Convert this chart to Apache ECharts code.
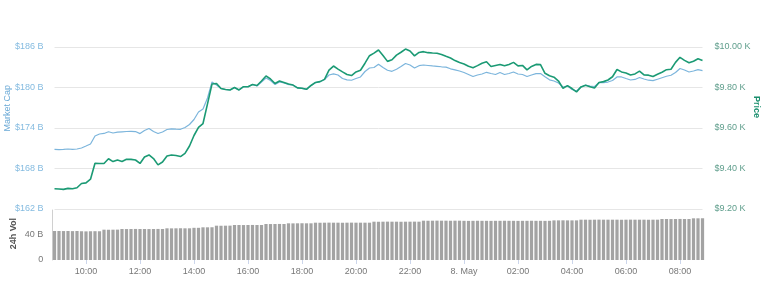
<!DOCTYPE html>
<html>
<head>
<meta charset="utf-8">
<script src="https://cdn.jsdelivr.net/npm/echarts@6/dist/echarts.min.js"></script>
<style>
html,body{margin:0;padding:0;background:#fff;}
#c{width:768px;height:292px;}
</style>
</head>
<body>
<div id="c"></div>
<script>
// Sampling grid: 10-minute steps from 08:50 (7 May) to 08:50 (8 May)
var startMinutes = 8 * 60 + 50;
var stepMinutes = 10;
var pointCount = 145;
var times = [];
for (var k = 0; k < pointCount; k++) {
  var m = (startMinutes + k * stepMinutes) % (24 * 60);
  var hh = Math.floor(m / 60), mm = m % 60;
  times.push((hh < 10 ? '0' : '') + hh + ':' + (mm < 10 ? '0' : '') + mm);
}

// Market cap, billions USD
var marketCap = [
170.84,170.81,170.84,170.89,170.84,170.89,171.04,171.33,171.63,172.81,
173.11,173.19,173.45,173.26,173.38,173.44,173.48,173.51,173.47,173.17,
173.63,173.93,173.48,173.19,173.41,173.78,173.88,173.82,173.81,174.07,
174.52,175.26,176.37,176.81,178.44,180.81,180.37,179.85,179.70,179.63,
180.00,179.63,180.12,180.12,180.44,180.22,180.81,181.41,181.04,180.44,
180.81,180.67,180.44,180.37,179.93,179.88,179.73,180.30,180.71,180.86,
181.19,181.85,182.03,181.85,181.33,181.14,181.07,181.33,181.56,182.37,
182.89,182.96,183.45,182.96,182.56,182.40,182.70,183.11,183.56,183.33,
182.89,183.23,183.33,183.26,183.19,183.14,183.07,183.01,182.77,182.62,
182.44,182.22,181.93,181.63,181.85,182.00,182.25,182.07,181.93,182.22,
181.93,182.07,182.30,182.00,181.93,181.63,181.85,182.06,182.07,181.60,
181.14,180.96,180.67,180.07,180.22,179.70,179.48,180.07,180.34,180.22,
180.15,180.71,180.71,180.81,181.04,181.56,181.56,181.33,181.11,181.19,
181.48,181.26,181.08,181.01,181.23,181.45,181.67,181.81,182.22,182.81,
182.59,182.30,182.44,182.64,182.49
];

// Price, USD
var price = [
9300,9299,9297,9302,9300,9305,9326,9329,9347,9426,
9425,9425,9448,9434,9442,9435,9446,9445,9442,9425,
9457,9467,9449,9418,9432,9462,9467,9464,9459,9475,
9511,9563,9603,9622,9719,9817,9820,9795,9790,9788,
9800,9788,9804,9804,9815,9810,9832,9857,9842,9820,
9832,9825,9817,9812,9798,9796,9791,9810,9825,9829,
9840,9886,9906,9891,9877,9864,9859,9877,9885,9920,
9957,9970,9985,9958,9929,9937,9960,9974,9990,9980,
9956,9973,9977,9972,9970,9969,9963,9954,9946,9933,
9923,9916,9905,9898,9908,9920,9927,9904,9909,9914,
9907,9914,9924,9907,9909,9887,9904,9914,9913,9870,
9858,9851,9832,9796,9809,9795,9778,9803,9811,9804,
9797,9825,9829,9837,9853,9889,9877,9872,9862,9867,
9881,9862,9861,9854,9865,9875,9888,9890,9924,9949,
9934,9922,9930,9942,9933
];

// 24h volume, billions USD
var volume = [
46.4,46.4,46.3,46.4,46.2,46.4,46.0,45.8,46.0,46.1,
46.0,48.5,48.4,48.5,48.6,49.6,49.5,49.6,49.7,49.6,
49.6,49.5,49.6,49.7,49.6,50.7,50.6,50.7,50.8,50.7,
50.7,51.5,51.5,52.3,52.3,52.4,54.9,54.8,54.9,55.0,
56.0,56.0,55.9,56.0,56.1,56.0,56.0,57.6,57.5,57.6,
57.7,57.6,58.7,58.6,58.7,58.8,58.7,58.7,59.7,59.6,
59.7,59.8,59.7,59.7,59.6,59.7,59.8,59.7,59.7,59.7,
59.7,61.3,61.2,61.3,61.4,61.3,61.3,61.2,61.3,61.3,
61.4,61.3,62.9,62.8,62.9,63.0,62.9,62.9,62.8,62.9,
62.9,62.7,62.6,62.7,62.8,62.7,62.7,62.6,62.7,62.7,
62.8,62.7,62.7,62.6,62.7,62.7,62.8,62.7,62.7,62.6,
62.7,63.4,63.4,63.5,63.4,63.4,63.4,64.5,64.5,64.4,
64.5,64.6,64.5,64.5,64.5,64.5,64.4,64.5,64.6,64.5,
64.5,64.5,64.4,64.5,64.5,65.6,65.6,65.5,65.6,65.7,
65.6,65.6,66.7,66.7,66.8
];

// Axis tick settings
var capTicks = {min: 162, max: 186, step: 6};
var priceTicks = {min: 9200, max: 10000, step: 200};
var volTicks = {min: 0, max: 80, step: 40};
var dayLabel = '8. May';

var chart = echarts.init(document.getElementById('c'), null, {renderer: 'canvas'});
var font = 'Liberation Sans';
var evenHour = function (i, v) { return /:00$/.test(v) && parseInt(v, 10) % 2 === 0; };
var option = {
  animation: false,
  backgroundColor: '#ffffff',
  grid: [
    {left: 54.5, width: 648, top: 47, height: 162},
    {left: 52.25, width: 652.5, top: 210, height: 50}
  ],
  xAxis: [
    {type: 'category', gridIndex: 0, data: times, boundaryGap: false,
     axisLine: {show: false}, axisTick: {show: false}, axisLabel: {show: false}, splitLine: {show: false}},
    {type: 'category', gridIndex: 1, data: times, boundaryGap: true,
     axisLine: {show: false},
     axisTick: {show: true, alignWithLabel: true, length: 4, lineStyle: {color: '#ccd6eb'}, interval: evenHour},
     axisLabel: {show: true, color: '#777', fontFamily: font, fontSize: 9, margin: 7, interval: evenHour,
       formatter: function (v) { return v === '00:00' ? dayLabel : v; }},
     splitLine: {show: false}}
  ],
  yAxis: [
    {type: 'value', gridIndex: 0, min: capTicks.min, max: capTicks.max, interval: capTicks.step, position: 'left',
     axisLine: {show: false}, axisTick: {show: false},
     axisLabel: {color: '#84bbe0', fontFamily: font, fontSize: 9, margin: 11,
       formatter: function (v) { return '$' + v + ' B'; }},
     splitLine: {show: true, lineStyle: {color: '#e6e6e6', width: 1}}},
    {type: 'value', gridIndex: 0, min: priceTicks.min, max: priceTicks.max, interval: priceTicks.step, position: 'right',
     axisLine: {show: false}, axisTick: {show: false},
     axisLabel: {color: '#5f9e8c', fontFamily: font, fontSize: 9, margin: 12,
       formatter: function (v) { return '$' + (v / 1000).toFixed(2) + ' K'; }},
     splitLine: {show: false}},
    {type: 'value', gridIndex: 1, min: volTicks.min, max: volTicks.max, interval: volTicks.step,
     axisLine: {show: true, lineStyle: {color: '#d0d0d0'}}, axisTick: {show: false},
     axisLabel: {color: '#777', fontFamily: font, fontSize: 9, margin: 9, showMaxLabel: false,
       formatter: function (v) { return v === 0 ? '0' : v + ' B'; }},
     splitLine: {show: false}}
  ],
  graphic: [
    {type: 'text', left: 3, top: 85, rotation: Math.PI / 2,
     style: {text: 'Market Cap', fill: '#6aa9d6', font: '9px ' + font}},
    {type: 'text', left: 752, top: 96, rotation: -Math.PI / 2,
     style: {text: 'Price', fill: '#1b8f6e', font: 'bold 9px ' + font}},
    {type: 'text', left: 9, top: 218, rotation: Math.PI / 2,
     style: {text: '24h Vol', fill: '#555', font: 'bold 9px ' + font}}
  ],
  series: [
    {name: 'Market Cap', type: 'line', xAxisIndex: 0, yAxisIndex: 0, data: marketCap,
     showSymbol: false, symbol: 'none', clip: false, z: 2,
     lineStyle: {color: '#7cb5dc', width: 1.2}},
    {name: 'Price', type: 'line', xAxisIndex: 0, yAxisIndex: 1, data: price,
     showSymbol: false, symbol: 'none', clip: false, z: 3,
     lineStyle: {color: '#1b9a74', width: 1.6}},
    {name: '24h Vol', type: 'bar', xAxisIndex: 1, yAxisIndex: 2, data: volume,
     barCategoryGap: '28%', itemStyle: {color: '#a3a3a3'}}
  ]
};
chart.setOption(option);
</script>
</body>
</html>
